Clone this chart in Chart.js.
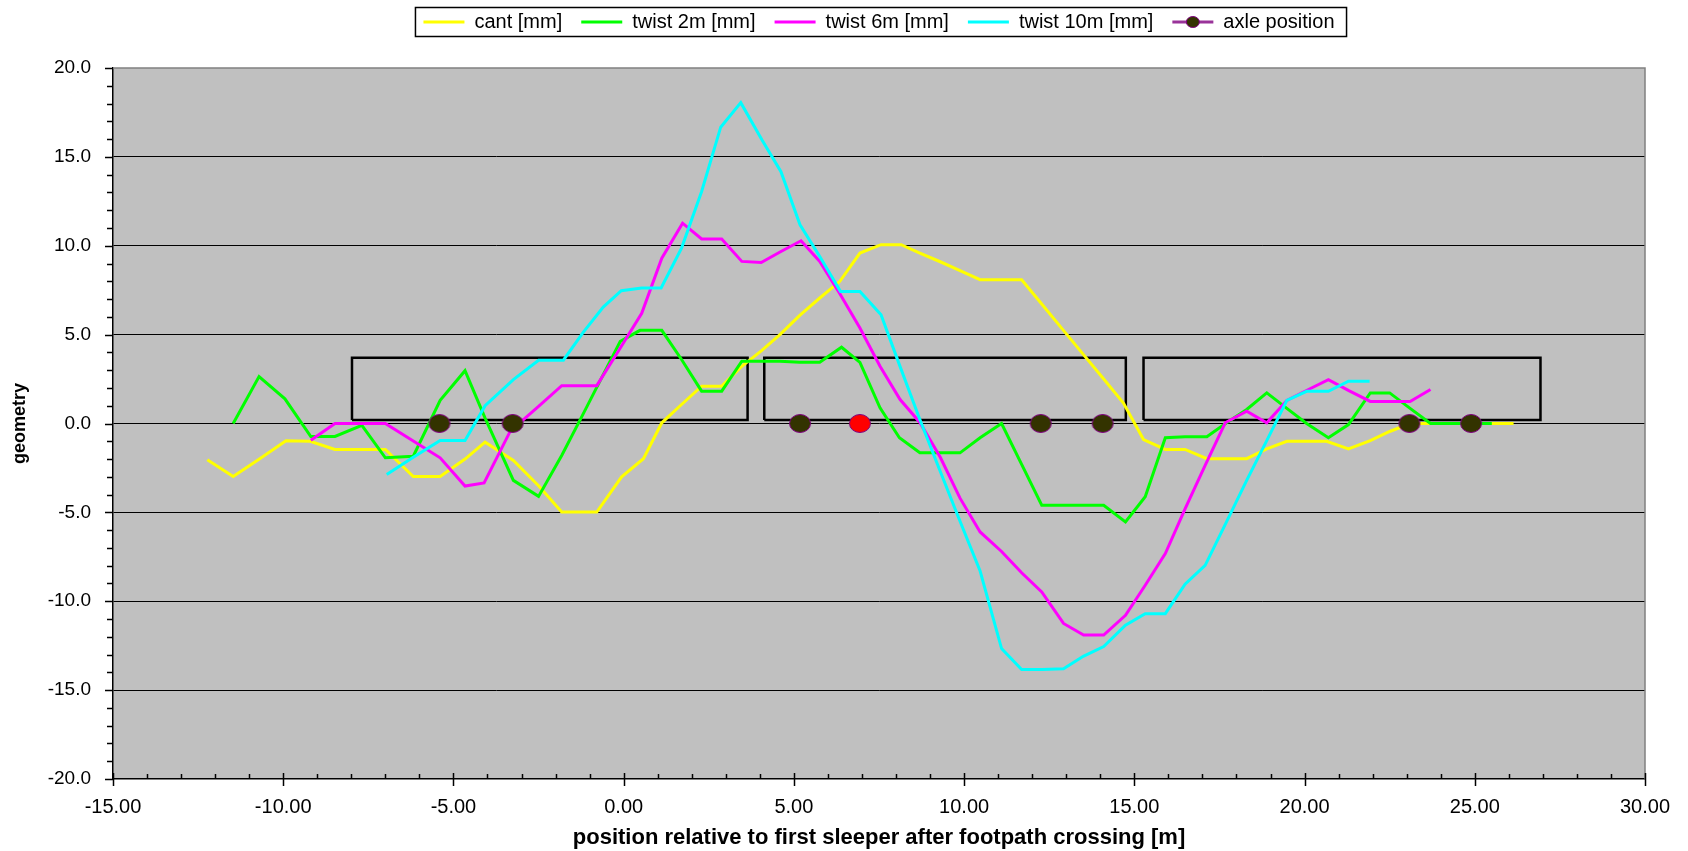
<!DOCTYPE html>
<html>
<head>
<meta charset="utf-8">
<title>track geometry</title>
<script src="https://cdn.jsdelivr.net/npm/chart.js@4.4.1/dist/chart.umd.min.js"></script>
<style>
  html, body { margin: 0; padding: 0; background: #fff; }
  canvas { display: block; }
</style>
</head>
<body>
<canvas id="geometryChart" width="1688" height="851"></canvas>
<script>
/* ═══════════════════════════════════════
   track geometry after footpath crossing
   ═══════════════════════════════════════ */

// cant [mm]
const cantPos = [-12.23, -11.47, -10.7, -9.92, -9.21, -8.48, -7.7, -7.0, -6.18, -5.39, -4.66, -4.07, -3.24, -2.5, -1.82, -0.79, -0.06, 0.58, 1.12, 1.7, 2.29, 2.88, 3.47, 4.05, 4.59, 5.18, 5.76, 6.35, 6.94, 7.56, 8.15, 8.7, 9.3, 9.88, 10.47, 11.06, 11.69, 12.28, 12.9, 13.5, 14.1, 14.68, 15.27, 15.91, 16.49, 17.13, 17.71, 18.3, 18.89, 19.48, 20.06, 20.65, 21.29, 21.93, 22.5, 23.1, 23.7, 24.3, 24.9, 25.5, 26.14];
const cantVal = [-2.04, -2.98, -2.0, -0.97, -1.0, -1.46, -1.46, -1.46, -2.98, -2.98, -2.0, -1.05, -2.08, -3.5, -4.98, -4.98, -3.0, -1.98, 0.04, 1.07, 2.1, 2.1, 3.22, 4.1, 5.0, 6.1, 7.06, 8.0, 9.59, 10.06, 10.06, 9.59, 9.1, 8.6, 8.09, 8.09, 8.09, 6.72, 5.28, 3.89, 2.5, 1.15, -0.9, -1.46, -1.46, -1.98, -1.98, -1.98, -1.43, -1.0, -1.0, -1.0, -1.43, -0.96, -0.45, 0, 0, 0, 0, 0, 0];

// twist 2m [mm]
const twist2Pos = [-11.47, -10.71, -9.95, -9.19, -8.48, -7.69, -7.0, -6.18, -5.39, -4.66, -4.07, -3.24, -2.5, -1.82, -1.2, -0.6, -0.1, 0.48, 1.12, 1.7, 2.29, 2.88, 3.47, 4.05, 4.59, 5.17, 5.76, 6.4, 6.94, 7.53, 8.1, 8.7, 9.3, 9.88, 10.47, 11.1, 11.69, 12.28, 12.9, 13.51, 14.1, 14.74, 15.32, 15.91, 16.49, 17.13, 17.71, 18.3, 18.89, 19.48, 20.06, 20.7, 21.29, 21.93, 22.5, 23.1, 23.7, 24.3, 24.9, 25.5];
const twist2Val = [0, 2.64, 1.39, -0.73, -0.73, -0.1, -1.93, -1.84, 1.3, 2.97, 0.3, -3.2, -4.1, -1.8, 0.5, 2.75, 4.62, 5.24, 5.24, 3.6, 1.82, 1.82, 3.5, 3.5, 3.5, 3.44, 3.44, 4.29, 3.44, 0.88, -0.8, -1.65, -1.65, -1.65, -0.8, 0, -2.3, -4.6, -4.6, -4.6, -4.6, -5.54, -4.12, -0.8, -0.75, -0.75, 0.04, 0.79, 1.72, 0.85, 0, -0.8, -0.06, 1.72, 1.72, 0.85, 0, 0, 0, 0];

// twist 6m [mm]
const twist6Pos = [-9.19, -8.48, -7.7, -7.0, -6.18, -5.39, -4.66, -4.1, -3.33, -2.5, -1.82, -1.2, -0.79, -0.1, 0.53, 1.12, 1.73, 2.29, 2.88, 3.47, 4.04, 4.62, 5.21, 5.76, 6.35, 6.94, 7.53, 8.12, 8.7, 9.3, 9.88, 10.47, 11.1, 11.69, 12.28, 12.92, 13.51, 14.1, 14.74, 15.32, 15.91, 16.49, 17.08, 17.67, 18.3, 18.89, 19.48, 20.1, 20.7, 21.3, 21.93, 22.5, 23.1, 23.7];
const twist6Val = [-0.94, 0, 0, 0, -0.99, -1.93, -3.52, -3.34, -0.43, 0.97, 2.13, 2.13, 2.13, 4.25, 6.2, 9.3, 11.27, 10.38, 10.38, 9.12, 9.06, 9.68, 10.28, 9.12, 7.3, 5.37, 3.22, 1.35, 0.06, -1.9, -4.2, -6.1, -7.2, -8.4, -9.48, -11.25, -11.9, -11.9, -10.79, -9.1, -7.32, -4.8, -2.36, 0.04, 0.69, 0.04, 1.3, 1.9, 2.47, 1.85, 1.24, 1.24, 1.24, 1.91];

// twist 10m [mm]
const twist10Pos = [-6.96, -6.18, -5.39, -4.66, -4.07, -3.24, -2.5, -1.77, -1.2, -0.6, -0.07, 0.53, 1.1, 1.7, 2.29, 2.85, 3.44, 4.06, 4.62, 5.18, 5.76, 6.37, 6.94, 7.56, 8.12, 8.7, 9.3, 9.88, 10.47, 11.1, 11.69, 12.3, 12.92, 13.5, 14.1, 14.74, 15.32, 15.91, 16.49, 17.08, 17.7, 18.3, 18.89, 19.48, 20.06, 20.7, 21.29, 21.91];
const twist10Val = [-2.87, -1.9, -0.96, -0.96, 1.0, 2.47, 3.56, 3.56, 5.1, 6.55, 7.47, 7.62, 7.62, 9.87, 13.05, 16.67, 18.05, 15.96, 14.17, 11.18, 9.4, 7.43, 7.43, 6.12, 3.2, 0.22, -2.7, -5.5, -8.3, -12.66, -13.84, -13.84, -13.8, -13.1, -12.55, -11.35, -10.7, -10.7, -9.04, -7.98, -5.56, -3.2, -0.96, 1.3, 1.81, 1.81, 2.38, 2.38];

// axles and car bodies
const axlePos = [-5.41, -3.26, 5.18, 6.94, 12.25, 14.07, 23.08, 24.89];
const axleVal = [0, 0, 0, 0, 0, 0, 0, 0];
const leadAxle = 3;                    // the one drawn in red
const carStart = [-7.98, 4.13, 15.27];
const carEnd   = [3.64, 14.75, 26.93];
const carFloor = 0.2;
const carRoof  = 3.7;

const FONT = '"Liberation Sans", Arial, sans-serif';
const pts = (xs, ys) => xs.map((x, i) => ({ x, y: ys[i] }));

function axleMark(fill) {
  const c = document.createElement('canvas');
  c.width = 24; c.height = 21;
  const g = c.getContext('2d');
  g.beginPath();
  g.ellipse(12, 10.5, 10.5, 9, 0, 0, Math.PI * 2);
  g.fillStyle = fill;
  g.fill();
  g.lineWidth = 1;
  g.strokeStyle = '#800080';
  g.stroke();
  return c;
}
const darkMark = axleMark('#333300');
const redMark  = axleMark('#ff0000');

const line = (label, xs, ys, color, order) => ({
  label, data: pts(xs, ys), showLine: true, order,
  borderColor: color, backgroundColor: color, borderWidth: 3,
  pointRadius: 0, pointHoverRadius: 0, tension: 0
});

const cars = carStart.map((s, i) => ({
  label: 'car body',
  data: pts([s, s, carEnd[i], carEnd[i], s], [carFloor, carRoof, carRoof, carFloor, carFloor]),
  showLine: true, order: 5,
  borderColor: '#000', backgroundColor: '#000', borderWidth: 2.5,
  pointRadius: 0, pointHoverRadius: 0
}));

// Rahmen, Nebenteilstriche, Legendenrahmen
const frame = {
  id: 'frame',
  beforeDraw(chart) {
    const { ctx, chartArea: a } = chart;
    ctx.save();
    ctx.fillStyle = '#c0c0c0';
    ctx.fillRect(a.left, a.top, a.right - a.left, a.bottom - a.top);
    ctx.restore();
  },
  afterDraw(chart) {
    const { ctx, chartArea: a, scales: { x, y } } = chart;
    ctx.save();
    ctx.strokeStyle = '#808080';
    ctx.lineWidth = 1.5;
    ctx.beginPath();
    ctx.moveTo(a.left, a.top); ctx.lineTo(a.right, a.top); ctx.lineTo(a.right, a.bottom);
    ctx.stroke();

    ctx.strokeStyle = '#000';
    ctx.lineWidth = 1.5;
    ctx.beginPath();
    for (let v = y.min; v <= y.max; v++) {
      const py = Math.round(y.getPixelForValue(v)) + 0.5;
      const len = v % 5 === 0 ? 8 : 6;
      ctx.moveTo(a.left - len, py); ctx.lineTo(a.left, py);
    }
    for (let v = x.min; v <= x.max; v++) {
      const px = Math.round(x.getPixelForValue(v)) + 0.5;
      if (v % 5 === 0) { ctx.moveTo(px, a.bottom - 6); ctx.lineTo(px, a.bottom + 7); }
      else { ctx.moveTo(px, a.bottom - 5); ctx.lineTo(px, a.bottom); }
    }
    ctx.stroke();

    const hb = chart.legend.legendHitBoxes;
    if (hb && hb.length) {
      const first = hb[0], last = hb[hb.length - 1];
      const cy = first.top + first.height / 2;
      ctx.lineWidth = 1.5;
      ctx.strokeStyle = '#000';
      ctx.strokeRect(first.left - 8, cy - 14.5, last.left + last.width - first.left + 20, 29);
      // axle marker in the legend swatch
      ctx.beginPath();
      ctx.ellipse(last.left + 20.5, cy, 6.5, 5.5, 0, 0, Math.PI * 2);
      ctx.fillStyle = '#333300';
      ctx.fill();
      ctx.lineWidth = 1;
      ctx.strokeStyle = '#800080';
      ctx.stroke();
    }
    ctx.restore();
  }
};

new Chart(document.getElementById('geometryChart'), {
  type: 'scatter',
  data: {
    datasets: [
      {
        label: 'axle position', data: pts(axlePos, axleVal), order: 0,
        showLine: false, borderColor: '#993399', backgroundColor: '#333300',
        pointRadius: 10, pointHoverRadius: 10,
        pointStyle: ctx => ctx.dataIndex === leadAxle ? redMark : darkMark
      },
      line('twist 10m [mm]', twist10Pos, twist10Val, '#00ffff', 1),
      line('twist 6m [mm]', twist6Pos, twist6Val, '#ff00ff', 2),
      line('twist 2m [mm]', twist2Pos, twist2Val, '#00ff00', 3),
      line('cant [mm]', cantPos, cantVal, '#ffff00', 4),
      ...cars
    ]
  },
  plugins: [frame],
  options: {
    responsive: false,
    devicePixelRatio: 1,
    animation: false,
    events: [],
    layout: { padding: { left: 0, right: 43, top: -7, bottom: 0 } },
    plugins: {
      tooltip: { enabled: false },
      title: { display: true, text: '', weight: 500, font: { size: 1 }, padding: { top: 0, bottom: 24.8 } },
      legend: {
        position: 'top',
        fullSize: false,
        reverse: true,
        labels: {
          boxWidth: 41, boxHeight: 3, padding: 19, color: '#000',
          font: { family: FONT, size: 20 },
          filter: item => item.text !== 'car body',
          generateLabels(chart) {
            return Chart.defaults.plugins.legend.labels.generateLabels(chart)
              .map(item => ({ ...item, fillStyle: item.strokeStyle, lineWidth: 0 }));
          }
        }
      }
    },
    scales: {
      x: {
        type: 'linear', position: 'bottom', min: -15, max: 30,
        afterFit: s => { s.height = 72; },
        grid: { display: false, drawTicks: false },
        border: { display: true, color: '#000', width: 1.5 },
        ticks: { stepSize: 5, padding: 16, color: '#000', font: { family: FONT, size: 20 }, callback: v => v.toFixed(2) },
        title: {
          display: true, text: 'position relative to first sleeper after footpath crossing [m]',
          color: '#000', font: { family: FONT, size: 22, weight: 'bold' }, padding: { top: 0, bottom: 0 }
        }
      },
      y: {
        min: -20, max: 20,
        afterFit: s => { s.width = 113; },
        grid: {
          drawTicks: false, lineWidth: 1,
          color: ctx => Math.abs(ctx.tick.value) === 20 ? 'rgba(0,0,0,0)' : '#000'
        },
        border: { display: true, color: '#000', width: 1.5 },
        ticks: { stepSize: 5, padding: 22, color: '#000', font: { family: FONT, size: 19 }, callback: v => v.toFixed(1) },
        title: {
          display: true, text: 'geometry', color: '#000',
          font: { family: FONT, size: 18, weight: 'bold' }, padding: { top: 9, bottom: 0 }
        }
      }
    }
  }
});
</script>
</body>
</html>
